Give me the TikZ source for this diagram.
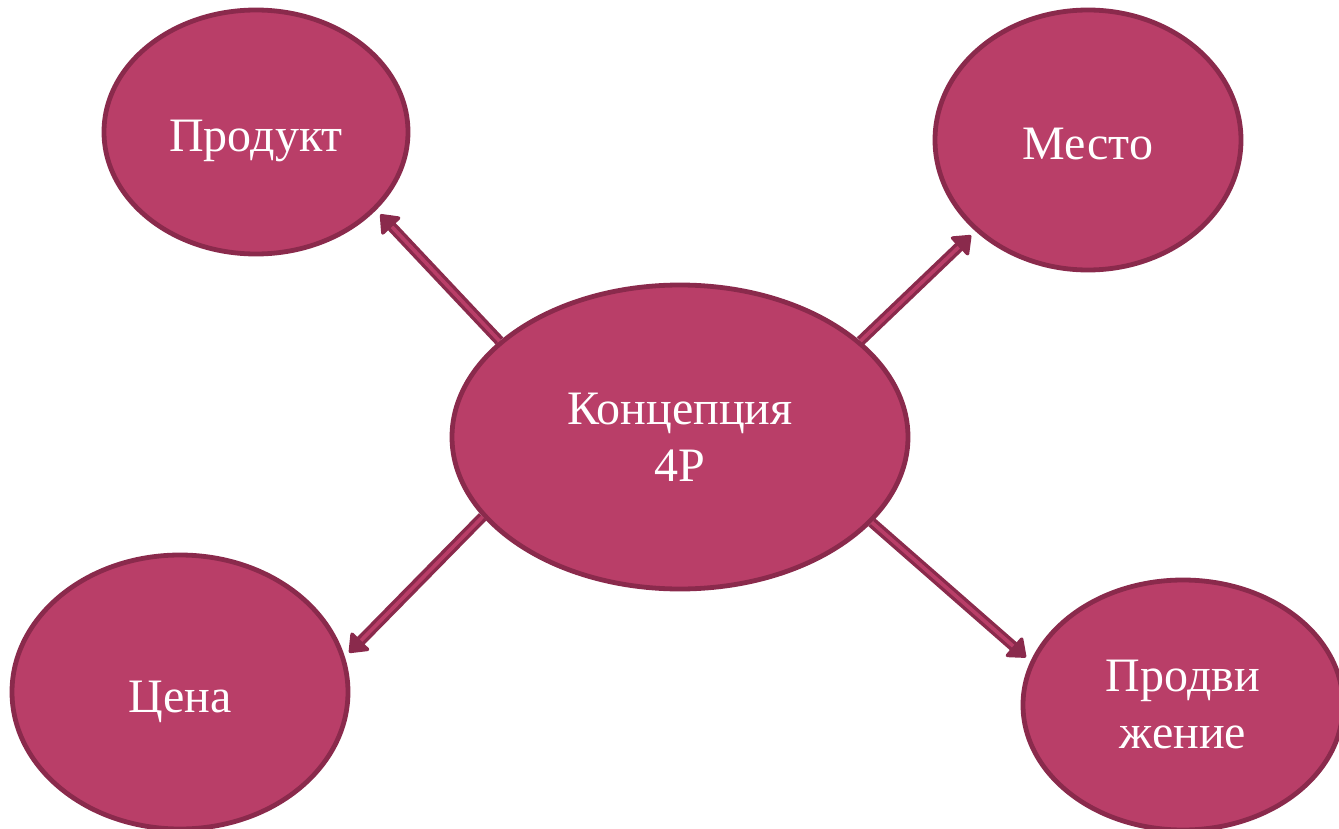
\documentclass[tikz,border=0pt]{standalone}
\usepackage{fontspec}
\setmainfont{Liberation Serif}
\usepackage{xcolor}
\definecolor{rosefill}{RGB}{185,62,104}
\definecolor{roseline}{RGB}{138,42,76}
\usetikzlibrary{arrows.meta,shapes.geometric}

\begin{document}
\begin{tikzpicture}[
  x=0.5pt, y=-0.5pt,
  pbox/.style={ellipse,draw=roseline,line width=2.4pt,fill=rosefill,text=white,
    inner sep=0pt,align=center,font=\fontsize{24}{28.5}\selectfont},
  onebox/.style={pbox,text height=20pt,text depth=0pt},
  arrow/.style={draw=roseline,line width=1.7pt,double=rosefill,double distance=1.8pt,
    -{Triangle[length=9pt,width=14pt,round]},shorten >=3pt}
]
  \useasboundingbox (0,0) rectangle (1339,829);
  \node[onebox,minimum width=152pt,minimum height=122pt] (prod) at (256,132) {Продукт};
  \node[onebox,minimum width=153pt,minimum height=130pt] (place) at (1088,140) {Место};
  \node[pbox,minimum width=228pt,minimum height=152pt] (core) at (680,437) {Концепция\\4P};
  \node[onebox,minimum width=168pt,minimum height=137pt] (price) at (180,692) {Цена};
  \node[pbox,minimum width=160pt,minimum height=125pt] (promo) at (1183,705) {Продви\\жение};

  \draw[arrow] (core.152) -- (prod.-33);
  \draw[arrow] (core.28) -- (place.-141);
  \draw[arrow] (core.202) -- (price.12);
  \draw[arrow] (core.-24) -- (promo.164);
\end{tikzpicture}
\end{document}
